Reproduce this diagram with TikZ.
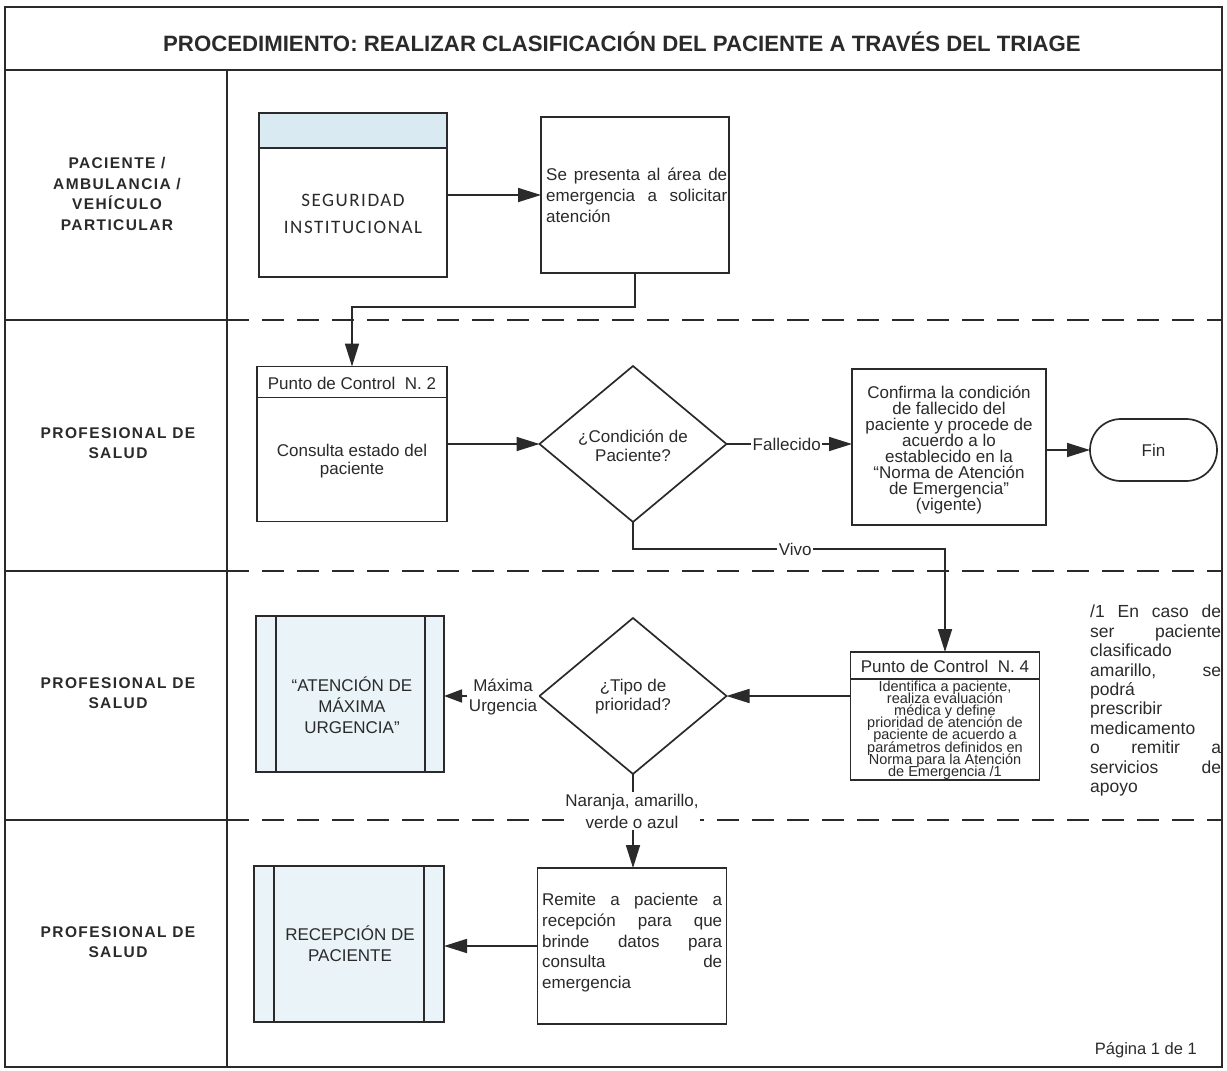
\documentclass[tikz,border=0pt]{standalone}
\usepackage{fontspec}
\setmainfont{Liberation Sans}
\newfontfamily\lanefont{Liberation Sans}[LetterSpace=9]
\newfontfamily\calfont{Carlito}[LetterSpace=8]
\usetikzlibrary{arrows.meta,shapes.geometric,calc}

\definecolor{ink}{HTML}{2A2A2A}
\definecolor{bandblue}{HTML}{D9EAF3}
\definecolor{paleblue}{HTML}{EAF4F8}

\tikzset{
  line/.style={draw=ink, line width=1.7pt},
  procbox/.style={line, rectangle, inner sep=0pt, outer sep=0pt, fill=white},
  subproc/.style={line, rectangle, inner sep=0pt, outer sep=0pt, fill=paleblue},
  decision/.style={line, diamond, inner sep=0pt, outer sep=0pt, fill=white,
    minimum width=187pt, minimum height=156pt},
  flow/.style={line, -{Triangle[length=23pt,width=14pt]}},
  txt/.style={inner sep=0pt, text=ink, align=center, font=\fontsize{17}{19}\selectfont},
  lbl/.style={fill=white, inner sep=1.5pt, text=ink, align=center, font=\fontsize{17}{19.5}\selectfont},
  lanelbl/.style={inner sep=0pt, align=center, text=ink, font=\lanefont\bfseries\fontsize{15.5}{20.5}\selectfont},
  lanesep/.style={draw=ink, line width=1.8pt, dash pattern=on 22pt off 13pt},
  framestroke/.style={draw=ink, line width=2.2pt},
}

\begin{document}
% keep the stated line spacing even where lines crowd each other
\lineskiplimit=-100pt
\begin{tikzpicture}[x=1pt,y=-1pt]
\useasboundingbox (0,0) rectangle (1227,1071);

% outer frame, header and lane column
\draw[framestroke] (5,7) rectangle (1222,1067);
\draw[framestroke] (5,70) -- (1222,70);
\draw[framestroke] (227,70) -- (227,1067);
\foreach \yy in {320,571,820}{
  \draw[framestroke] (5,\yy) -- (227,\yy);
  \draw[lanesep] (227,\yy) -- (1222,\yy);
}

\node[inner sep=0pt, text=ink, font=\bfseries\fontsize{22.2}{24}\selectfont] (title) at (622,42)
  {PROCEDIMIENTO: REALIZAR CLASIFICACIÓN DEL PACIENTE A TRAVÉS DEL TRIAGE};

% lane labels
\node[lanelbl] (lane1) at (117,194) {PACIENTE /\\AMBULANCIA /\\VEHÍCULO\\PARTICULAR};
\node[lanelbl] (lane2) at (118,443) {PROFESIONAL DE\\SALUD};
\node[lanelbl] (lane3) at (118,693) {PROFESIONAL DE\\SALUD};
\node[lanelbl] (lane4) at (118,942) {PROFESIONAL DE\\SALUD};

% lane 1
\node[procbox, minimum width=188pt, minimum height=164pt,
  path picture={\fill[bandblue] (path picture bounding box.north west) rectangle
    ([yshift=-35pt]path picture bounding box.north east);}] (seg) at (353,195) {};
\draw[line] ([yshift=-35pt]seg.north west) -- ([yshift=-35pt]seg.north east);
\node[inner sep=0pt, text=ink, align=center, font=\calfont\fontsize{19}{27}\selectfont] (segtxt) at (353,214)
  {SEGURIDAD\\INSTITUCIONAL};

\node[procbox, minimum width=188pt, minimum height=156pt] (pres) at (635,195) {};
\node[txt, anchor=north west, align=left, font=\fontsize{17}{21}\selectfont] (prestxt) at (546,168)
  {\makebox[181pt][s]{Se presenta al área de}\\
   \makebox[181pt][s]{emergencia a solicitar}\\
   atención};

% lane 2
\node[procbox, minimum width=190pt, minimum height=155pt] (cons) at (352,444) {};
\draw[line] ([yshift=-31pt]cons.north west) -- ([yshift=-31pt]cons.north east);
\node[txt] (constitle) at (352,383) {Punto de Control\ \ N. 2};
\node[txt, font=\fontsize{17}{17.5}\selectfont] (constxt) at (352,461) {Consulta estado del\\paciente};

\node[decision] (cond) at (633,444) {};
\node[txt] (condtxt) at (633,446) {¿Condición de\\Paciente?};

\node[procbox, minimum width=194pt, minimum height=156pt] (conf) at (949,447) {};
\node[txt, font=\fontsize{17}{16.1}\selectfont] (conftxt) at (949,450)
  {Confirma la condición\\de fallecido del\\paciente y procede de\\acuerdo a lo\\establecido en la\\“Norma de Atención\\de Emergencia”\\(vigente)};

\node[line, rectangle, rounded corners=31pt, minimum width=127pt, minimum height=62pt,
  inner sep=0pt, outer sep=0pt, text=ink, font=\fontsize{17}{19}\selectfont] (fin) at (1153.5,450) {Fin};

% lane 3
\node[subproc, minimum width=188pt, minimum height=156pt] (aten) at (350,694) {};
\draw[line] ([xshift=20pt]aten.north west) -- ([xshift=20pt]aten.south west);
\draw[line] ([xshift=-19pt]aten.north east) -- ([xshift=-19pt]aten.south east);
\node[txt, font=\fontsize{17}{21}\selectfont] (atentxt) at (352,705)
  {“ATENCIÓN DE\\MÁXIMA\\URGENCIA”};

\node[decision] (prio) at (633,696) {};
\node[txt] (priotxt) at (633,697) {¿Tipo de\\prioridad?};

\node[procbox, minimum width=189pt, minimum height=128pt] (ident) at (945,716) {};
\draw[line] ([yshift=-27pt]ident.north west) -- ([yshift=-27pt]ident.north east);
\node[txt] (identtitle) at (945,666) {Punto de Control\ \ N. 4};
\node[txt, font=\fontsize{14.5}{12.2}\selectfont] (identtxt) at (945,730)
  {Identifica a paciente,\\realiza evaluación\\médica y define\\prioridad de atención de\\paciente de acuerdo a\\parámetros definidos en\\Norma para la Atención\\de Emergencia /1};

\node[txt, anchor=north west, align=left, font=\fontsize{17.5}{19.4}\selectfont] (nota) at (1090,605)
  {\makebox[131pt][s]{/1 En caso de}\\
   \makebox[131pt][s]{ser paciente}\\
   clasificado\\
   \makebox[131pt][s]{amarillo, se}\\
   podrá\\
   prescribir\\
   medicamento\\
   \makebox[131pt][s]{o remitir a}\\
   \makebox[131pt][s]{servicios de}\\
   apoyo};

% lane 4
\node[subproc, minimum width=190pt, minimum height=156pt] (recep) at (349,944) {};
\draw[line] ([xshift=20pt]recep.north west) -- ([xshift=20pt]recep.south west);
\draw[line] ([xshift=-20pt]recep.north east) -- ([xshift=-20pt]recep.south east);
\node[txt, font=\fontsize{17}{21}\selectfont] (receptxt) at (350,944) {RECEPCIÓN DE\\PACIENTE};

\node[procbox, minimum width=189pt, minimum height=156pt] (remite) at (632,946) {};
\node[txt, anchor=north west, align=left, font=\fontsize{17}{20.8}\selectfont] (remitetxt) at (542,893)
  {\makebox[180pt][s]{Remite a paciente a}\\
   \makebox[180pt][s]{recepción para que}\\
   \makebox[180pt][s]{brinde datos para}\\
   \makebox[180pt][s]{consulta de}\\
   emergencia};

\node[inner sep=0pt, text=ink, anchor=east, font=\fontsize{16.5}{19}\selectfont] (pagina) at (1197,1050) {Página 1 de 1};

% connectors
\draw[flow] (seg.east) -- (pres.west);
\draw[flow] (pres.south) -- ++(0,34) -| (cons.north);
\draw[flow] (cons.east) -- (cond.west);
\draw[flow] (cond.east) -- (cond.east -| conf.west) node[lbl, pos=0.48] {Fallecido};
\draw[flow] (conf.east |- fin.west) -- (fin.west);
\draw[flow] (cond.south) -- ++(0,27) -| (ident.north) node[lbl, pos=0.26] {Vivo};
\draw[flow] (ident.west |- prio.east) -- (prio.east);
\draw[line, -{Triangle[length=18pt,width=13pt]}] (prio.west) -- (prio.west -| aten.east);
\node[lbl] (maxurg) at (503,697) {Máxima\\Urgencia};
\draw[flow] (prio.south) -- (prio.south |- remite.north);
\node[lbl, font=\fontsize{17}{22}\selectfont] (resto) at (632,811) {Naranja, amarillo,\\verde o azul};
\draw[flow] (remite.west) -- (remite.west -| recep.east);
\end{tikzpicture}
\end{document}
